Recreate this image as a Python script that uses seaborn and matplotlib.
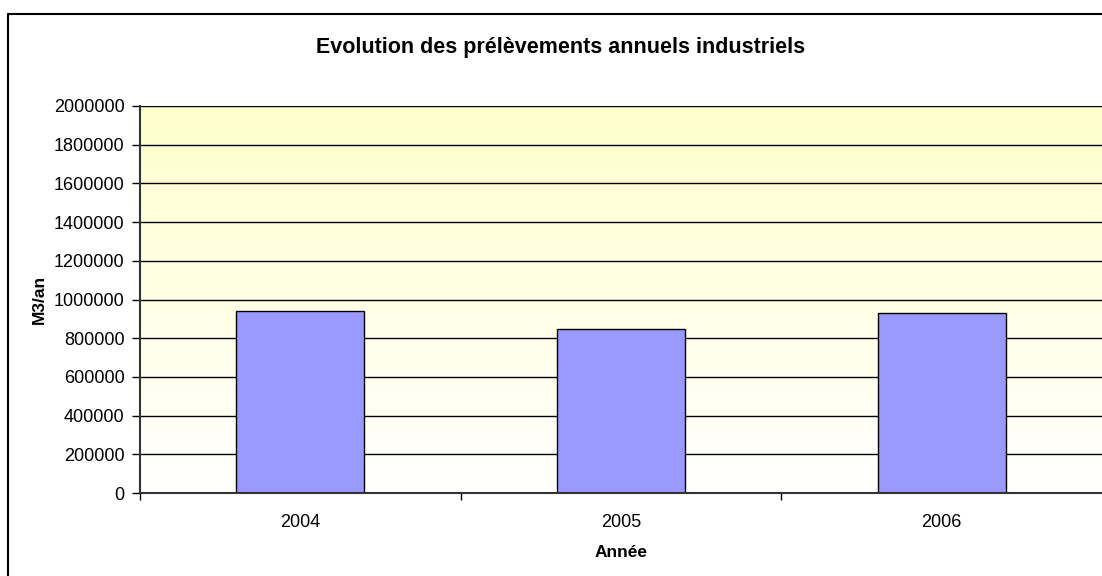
import matplotlib
matplotlib.use('Agg')
import matplotlib.pyplot as plt
import numpy as np
import seaborn as sns
import pandas as pd
from matplotlib.colors import LinearSegmentedColormap

# values
annees = ['2004', '2005', '2006']
prelevements = [943000, 845000, 931000]
y_ticks = [0, 200000, 400000, 600000, 800000, 1000000, 1200000, 1400000, 1600000, 1800000, 2000000]

data = pd.DataFrame({'Année': annees, 'M3/an': prelevements})

sns.set_style('white')
plt.rcParams['font.family'] = ['Liberation Sans', 'DejaVu Sans']
plt.rcParams['text.color'] = 'black'
plt.rcParams['axes.labelcolor'] = 'black'
plt.rcParams['xtick.color'] = 'black'
plt.rcParams['ytick.color'] = 'black'

fig = plt.figure(figsize=(11.02, 5.76), dpi=100)
ax = fig.add_axes([140/1102, 1 - 493/576, 1 - 140/1102, (493 - 106)/576])

# yellow to white gradient background (Excel plot area)
cmap = LinearSegmentedColormap.from_list('fond', ['#ffffff', '#ffffcc'])
grad = np.linspace(0, 1, 256).reshape(-1, 1)
ax.imshow(grad, cmap=cmap, aspect='auto', origin='lower',
          extent=[-0.5, 2.5, 0, 2000000], zorder=0)

sns.barplot(data=data, x='Année', y='M3/an', color='#9999ff', edgecolor='black',
            linewidth=1, width=0.4, saturation=1, ax=ax, zorder=3)

ax.set_xlim(-0.5, 2.5)
ax.set_ylim(0, 2000000)
ax.set_yticks(y_ticks)
ax.set_yticklabels([str(v) for v in y_ticks], fontsize=13)
for v in y_ticks[1:]:
    ax.axhline(v, color='black', lw=1, zorder=2)

# category ticks between the groups
ax.set_xticks([0, 1, 2])
ax.set_xticklabels(annees, fontsize=13)
ax.set_xticks([-0.5, 0.5, 1.5], minor=True)
ax.tick_params(axis='x', which='major', length=0, pad=15)
ax.tick_params(axis='x', which='minor', direction='out', length=5, width=1, color='black', bottom=True)
ax.tick_params(axis='y', direction='out', length=6, width=1, color='black', left=True, pad=5)

for s in ['top', 'right']:
    ax.spines[s].set_visible(False)
for s in ['left', 'bottom']:
    ax.spines[s].set_color('#333333')
    ax.spines[s].set_linewidth(1.5)
    ax.spines[s].set_zorder(4)

ax.set_xlabel('Année', fontsize=12.5, fontweight='bold', labelpad=10)
ax.set_ylabel('M3/an', fontsize=12.5, fontweight='bold', labelpad=5)
fig.text(561/1102, 1 - 47/576, 'Evolution des prélèvements annuels industriels',
         ha='center', va='center', fontsize=15.5, fontweight='bold')

# chart area border (only left and top visible in the crop)
fig.add_artist(plt.Line2D([8/1102, 8/1102], [0, 1 - 14/576], color='black', lw=1.5, transform=fig.transFigure))
fig.add_artist(plt.Line2D([8/1102, 1], [1 - 14/576, 1 - 14/576], color='black', lw=1.5, transform=fig.transFigure))

fig.savefig('out.png', dpi=100)
